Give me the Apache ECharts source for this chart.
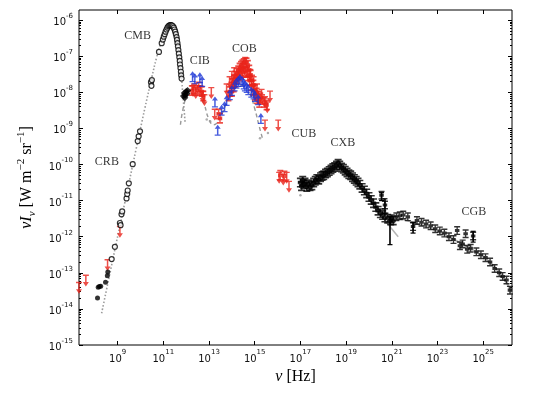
<!DOCTYPE html>
<html><head><meta charset="utf-8">
<script src="https://cdn.jsdelivr.net/npm/echarts@6/dist/echarts.min.js"></script>
<style>html,body{margin:0;padding:0;background:#fff}#c{width:540px;height:395px}</style>
</head><body><div id="c"></div>
<script>
// All values: [log10(nu / Hz), log10(nu I_nu / W m^-2 sr^-1)]
const xTicks = [9, 11, 13, 15, 17, 19, 21, 23, 25];
const yTicks = [-15, -14, -13, -12, -11, -10, -9, -8, -7, -6];

const cmbModel = [[8.30,-14.12],[8.8,-12.6],[9.3,-11.1],[9.8,-9.6],[10.2,-8.42],[10.5,-7.58],[10.7,-7.05],[10.9,-6.62],[11.05,-6.38],[11.2,-6.2],[11.33,-6.14],[11.45,-6.18],[11.55,-6.33],[11.65,-6.68],[11.72,-7.05],[11.78,-7.45],[11.84,-7.95],[11.9,-8.4],[11.95,-8.82]];
const cmbOpen = [[8.74,-12.62],[8.88,-12.28],[9.1,-11.62],[9.13,-11.68],[9.17,-11.38],[9.2,-11.3],[9.39,-10.94],[9.42,-10.82],[9.44,-10.72],[9.49,-10.52],[9.66,-9.99],[9.88,-9.35],[9.92,-9.22],[9.98,-9.08],[10.46,-7.72],[10.48,-7.82],[10.5,-7.66],[10.81,-6.88],[10.93,-6.64],[10.98,-6.54],[11.02,-6.46],[11.06,-6.39],[11.1,-6.32],[11.14,-6.26],[11.18,-6.21],[11.22,-6.17],[11.26,-6.15],[11.3,-6.14],[11.34,-6.14],[11.38,-6.15],[11.42,-6.17],[11.46,-6.21],[11.49,-6.26],[11.52,-6.32],[11.55,-6.39],[11.58,-6.47],[11.6,-6.55],[11.62,-6.64],[11.64,-6.73],[11.66,-6.83],[11.68,-6.93],[11.7,-7.03],[11.72,-7.13],[11.73,-7.23],[11.75,-7.33],[11.77,-7.43],[11.78,-7.53],[11.8,-7.62]];
const crbFilled = [[8.12,-13.7],[8.15,-13.4],[8.2,-13.38],[8.26,-13.37],[8.47,-13.26],[8.55,-13.08],[8.57,-12.98]];
const cibBlack = [[11.88,-8.1],[11.92,-8.02],[11.96,-8.08],[12.0,-7.98],[12.04,-8.03],[11.94,-8.15],[12.06,-7.95]];
const redUpper = [[7.31,-13.25],[7.61,-13.05],[8.56,-12.62],[9.1,-11.7],[12.3,-7.8],[12.42,-7.85],[12.62,-7.8],[12.72,-7.95],[12.8,-8.05],[13.1,-7.85],[13.25,-8.45],[13.77,-7.75],[13.9,-7.55],[14.0,-7.4],[14.1,-7.3],[14.8,-7.35],[14.95,-7.55],[15.1,-7.75],[15.3,-7.9],[15.45,-8.1],[15.55,-8.25],[15.67,-7.95],[15.45,-8.75],[16.03,-8.75],[16.07,-10.2],[16.25,-10.25],[16.4,-10.2],[16.5,-10.45]];
const redPts = [[12.25,-7.95],[12.35,-7.9],[12.5,-7.95],[12.55,-7.85],[12.68,-7.98],[12.75,-8.1],[13.42,-8.6],[13.48,-8.72],[13.85,-8.1],[13.92,-7.98],[13.98,-7.85],[14.04,-7.75],[14.1,-7.65],[14.16,-7.55],[14.22,-7.47],[14.28,-7.4],[14.34,-7.33],[14.4,-7.28],[14.46,-7.24],[14.52,-7.2],[14.58,-7.17],[14.64,-7.18],[14.7,-7.25],[14.76,-7.38],[14.82,-7.52],[14.88,-7.66],[14.94,-7.8],[15.0,-7.92],[15.08,-8.02],[15.16,-8.1],[15.24,-8.15],[15.32,-8.2],[15.42,-8.28],[15.52,-8.35],[14.0,-7.98],[14.08,-7.85],[14.16,-7.72],[14.24,-7.62],[14.32,-7.55],[14.4,-7.5],[14.48,-7.45],[14.56,-7.42],[14.62,-7.45],[14.7,-7.55],[14.78,-7.68],[14.86,-7.82],[14.94,-7.95],[15.02,-8.08],[15.1,-8.18],[15.2,-8.28],[16.12,-10.3],[16.3,-10.32]];
const blueLower = [[12.28,-7.72],[12.38,-7.78],[12.6,-7.75],[12.7,-7.85],[13.26,-8.42],[13.38,-9.2],[13.55,-8.65],[13.68,-8.55],[13.77,-8.38],[13.91,-8.22],[14.0,-8.1],[14.12,-7.98],[14.2,-7.9],[14.28,-7.85],[14.35,-7.8],[14.45,-7.85],[14.52,-7.92],[14.57,-7.98],[14.65,-8.02],[14.72,-8.08],[14.85,-8.15],[14.95,-8.2],[15.01,-8.27],[15.15,-8.36],[15.27,-8.88]];
const irModel = [[11.75,-8.9],[11.85,-8.5],[12.0,-8.15],[12.2,-7.95],[12.4,-7.9],[12.6,-8.0],[12.8,-8.35],[13.0,-8.75],[13.2,-8.9],[13.4,-8.8],[13.6,-8.55],[13.8,-8.25],[14.0,-8.0],[14.2,-7.85],[14.4,-7.8],[14.6,-7.85],[14.8,-8.05],[15.0,-8.45],[15.2,-8.95],[15.35,-9.3]];
const grayPts = [[12.9,-8.75],[13.05,-8.8],[15.23,-9.27],[15.58,-9.13],[17.0,-10.85]];
const cxbPts = [[17.0,-10.5],[17.05,-10.6],[17.1,-10.45],[17.15,-10.55],[17.2,-10.5],[17.28,-10.62],[17.35,-10.55],[17.42,-10.6],[17.5,-10.58],[17.58,-10.5],[17.65,-10.45],[17.72,-10.4],[17.8,-10.42],[17.88,-10.35],[17.95,-10.32],[18.02,-10.3],[18.1,-10.25],[18.18,-10.22],[18.26,-10.18],[18.34,-10.14],[18.42,-10.1],[18.5,-10.07],[18.58,-10.03],[18.65,-9.98],[18.72,-10.03],[18.8,-10.08],[18.88,-10.12],[18.96,-10.17],[19.04,-10.22],[19.12,-10.27],[19.2,-10.3],[19.28,-10.35],[19.36,-10.4],[19.44,-10.45],[19.52,-10.5],[19.6,-10.56],[19.7,-10.65],[19.8,-10.72],[19.9,-10.8],[20.0,-10.9],[20.1,-10.98],[20.2,-11.07],[20.3,-11.18],[20.4,-11.28],[20.5,-11.35],[20.6,-11.4],[20.7,-11.47],[20.82,-11.5],[20.95,-11.55],[21.06,-11.55]];
const cgbPts = [[20.55,-10.85],[20.7,-11.12],[21.0,-11.5],[21.2,-11.45],[21.35,-11.42],[21.5,-11.4],[21.7,-11.45],[21.93,-11.72],[22.1,-11.55],[22.3,-11.6],[22.5,-11.65],[22.7,-11.7],[22.9,-11.78],[23.1,-11.84],[23.3,-11.9],[23.5,-12.0],[23.7,-12.08],[23.86,-11.83],[23.98,-12.25],[24.1,-12.2],[24.23,-11.92],[24.3,-12.35],[24.45,-12.32],[24.56,-11.98],[24.7,-12.42],[24.9,-12.5],[25.1,-12.58],[25.3,-12.7],[25.5,-12.88],[25.7,-13.0],[25.85,-13.1],[26.02,-13.2],[26.17,-13.48]];
const errBars = [[20.92,-11.45,-12.22],[24.56,-11.85,-12.15],[21.93,-11.6,-11.9],[20.55,-10.78,-11.0],[20.7,-10.95,-11.35]];
const heModel = [[17.0,-10.65],[17.5,-10.5],[18.0,-10.3],[18.5,-10.08],[18.7,-10.05],[19.0,-10.18],[19.5,-10.5],[20.0,-10.95],[20.5,-11.3],[21.0,-11.48],[21.5,-11.52],[22.0,-11.62],[22.5,-11.72],[23.0,-11.85],[23.5,-12.0],[24.0,-12.18],[24.5,-12.35],[25.0,-12.55],[25.5,-12.85],[26.0,-13.25],[26.26,-13.6]];
const agnModel = [[20.26,-11.21],[21.28,-12.0]];
const bandLabels = [['CMB',9.875,-6.43],['CRB',8.53,-9.92],['CIB',12.6,-7.13],['COB',14.55,-6.80],['CUB',17.15,-9.14],['CXB',18.86,-9.41],['CGB',24.59,-11.31]];

const X_MIN = 7.31, X_MAX = 26.26, Y_MIN = -15, Y_MAX = -5.72;
const yMinor = [];
for (const d of yTicks) for (let k = 2; k <= 9; k++) { const v = d + Math.log10(k); if (v < Y_MAX) yMinor.push(v); }

const arrowDown = 'path://M1,0 H9 V1.8 H6 V10 H9 L5,16 L1,10 H4 V1.8 H1 Z';
const arrowUp = 'path://M1,16 H9 V14.2 H6 V6 H9 L5,0 L1,6 H4 V14.2 H1 Z';
const ibeam = 'path://M0,0 H8 V1.6 H4.9 V3.3 H7 V6.7 H4.9 V8.4 H8 V10 H0 V8.4 H3.1 V6.7 H1 V3.3 H3.1 V1.6 H0 Z';

const RED = '#e8231a', BLUE = '#1a35d6', GRAY = '#9a9a9a';
const tickLabelRich = {
  b: { fontFamily: 'DejaVu Sans', fontSize: 10, color: '#111', lineHeight: 15, verticalAlign: 'bottom' },
  s: { fontFamily: 'DejaVu Sans', fontSize: 7, color: '#111', lineHeight: 15, verticalAlign: 'top' }
};
const fmt = v => '{b|10}{s|' + Math.round(v) + '}';

function xAx(pos, labels) {
  return {
    type: 'value', position: pos, min: X_MIN, max: X_MAX,
    axisLine: { show: false }, splitLine: { show: false },
    axisTick: { show: true, inside: true, length: 4, customValues: xTicks, lineStyle: { color: '#000' } },
    axisLabel: { show: labels, customValues: xTicks, formatter: fmt, rich: tickLabelRich, margin: 4 },
    name: labels ? '{i|ν}{r| [Hz]}' : '', nameLocation: 'middle', nameGap: 24,
    nameTextStyle: { rich: {
      i: { fontFamily: 'Liberation Serif', fontStyle: 'italic', fontSize: 16, color: '#000' },
      r: { fontFamily: 'Liberation Serif', fontSize: 16, color: '#000' } } }
  };
}
function yAx(pos, vals, len, labels) {
  return {
    type: 'value', position: pos, min: Y_MIN, max: Y_MAX,
    axisLine: { show: false }, splitLine: { show: false },
    axisTick: { show: true, inside: true, length: len, customValues: vals, lineStyle: { color: '#000' } },
    axisLabel: { show: labels, customValues: yTicks, formatter: fmt, rich: tickLabelRich, margin: 6 },
    name: labels ? '{i|νI}{sub|ν}{r| [W m}{sup|−2}{r| sr}{sup|−1}{r|]}' : '',
    nameLocation: 'middle', nameGap: 36, nameRotate: 90,
    nameTextStyle: { rich: {
      i: { fontFamily: 'Liberation Serif', fontStyle: 'italic', fontSize: 16, color: '#000', lineHeight: 22, verticalAlign: 'middle' },
      sub: { fontFamily: 'Liberation Serif', fontStyle: 'italic', fontSize: 11, color: '#000', lineHeight: 22, verticalAlign: 'bottom' },
      r: { fontFamily: 'Liberation Serif', fontSize: 16, color: '#000', lineHeight: 22, verticalAlign: 'middle' },
      sup: { fontFamily: 'Liberation Serif', fontSize: 11, color: '#000', lineHeight: 22, verticalAlign: 'top' } } }
  };
}

const chart = echarts.init(document.getElementById('c'), null, { renderer: 'canvas' });
chart.setOption({
  animation: false,
  backgroundColor: '#fff',
  grid: { left: 79, right: 28, top: 10, bottom: 50, show: true, borderColor: '#000', borderWidth: 1, backgroundColor: 'transparent' },
  xAxis: [xAx('bottom', true), xAx('top', false)],
  yAxis: [yAx('left', yTicks, 4, true), yAx('left', yMinor, 2, false), yAx('right', yTicks, 4, false), yAx('right', yMinor, 2, false)],
  series: [
    { type: 'line', data: cmbModel, showSymbol: false, smooth: true, lineStyle: { color: GRAY, width: 1.6, type: [1.5, 2] }, z: 1 },
    { type: 'line', data: irModel, showSymbol: false, smooth: true, lineStyle: { color: GRAY, width: 1.4, type: [4, 3] }, z: 1 },
    { type: 'line', data: heModel, showSymbol: false, smooth: true, lineStyle: { color: '#b5b5b5', width: 2 }, z: 1 },
    { type: 'line', data: agnModel, showSymbol: false, lineStyle: { color: '#b5b5b5', width: 1.5 }, z: 1 },
    { type: 'scatter', data: grayPts, symbol: 'circle', symbolSize: 2.5, itemStyle: { color: GRAY }, z: 2 },
    { type: 'custom', data: errBars, encode: { x: 0, y: [1, 2] }, z: 3,
      renderItem: (params, api) => {
        const a = api.coord([api.value(0), api.value(1)]);
        const b = api.coord([api.value(0), api.value(2)]);
        return { type: 'group', children: [
          { type: 'line', shape: { x1: a[0], y1: a[1], x2: b[0], y2: b[1] }, style: { stroke: '#000', lineWidth: 1.6 } },
          { type: 'line', shape: { x1: a[0] - 2.5, y1: a[1], x2: a[0] + 2.5, y2: a[1] }, style: { stroke: '#000', lineWidth: 1.2 } },
          { type: 'line', shape: { x1: b[0] - 2.5, y1: b[1], x2: b[0] + 2.5, y2: b[1] }, style: { stroke: '#000', lineWidth: 1.2 } }
        ] };
      } },
    { type: 'scatter', data: cxbPts, symbol: ibeam, symbolSize: [7, 10], itemStyle: { color: '#000' }, z: 4 },
    { type: 'scatter', data: cgbPts, symbol: ibeam, symbolSize: [6, 9], itemStyle: { color: '#000' }, z: 4 },
    { type: 'scatter', data: redPts, symbol: ibeam, symbolSize: [6, 11], itemStyle: { color: RED }, z: 4 },
    { type: 'scatter', data: redUpper, symbol: arrowDown, symbolSize: [6, 12], symbolOffset: [0, '50%'], itemStyle: { color: RED }, z: 5 },
    { type: 'scatter', data: blueLower, symbol: arrowUp, symbolSize: [6, 11], symbolOffset: [0, '-50%'], itemStyle: { color: BLUE }, z: 5 },
    { type: 'scatter', data: cibBlack, symbol: 'diamond', symbolSize: 7, itemStyle: { color: '#000' }, z: 5 },
    { type: 'scatter', data: crbFilled, symbol: 'circle', symbolSize: 5, itemStyle: { color: '#000' }, z: 5 },
    { type: 'scatter', data: cmbOpen, symbol: 'circle', symbolSize: 5, itemStyle: { color: '#fff', borderColor: '#000', borderWidth: 1.2 }, z: 6 },
    { type: 'scatter', data: bandLabels.map(d => ({ name: d[0], value: [d[1], d[2]] })), symbolSize: 0, z: 7,
      label: { show: true, position: 'inside', formatter: p => p.name, fontFamily: 'Liberation Serif', fontSize: 12, color: '#000' } }
  ]
});
</script>
</body></html>
